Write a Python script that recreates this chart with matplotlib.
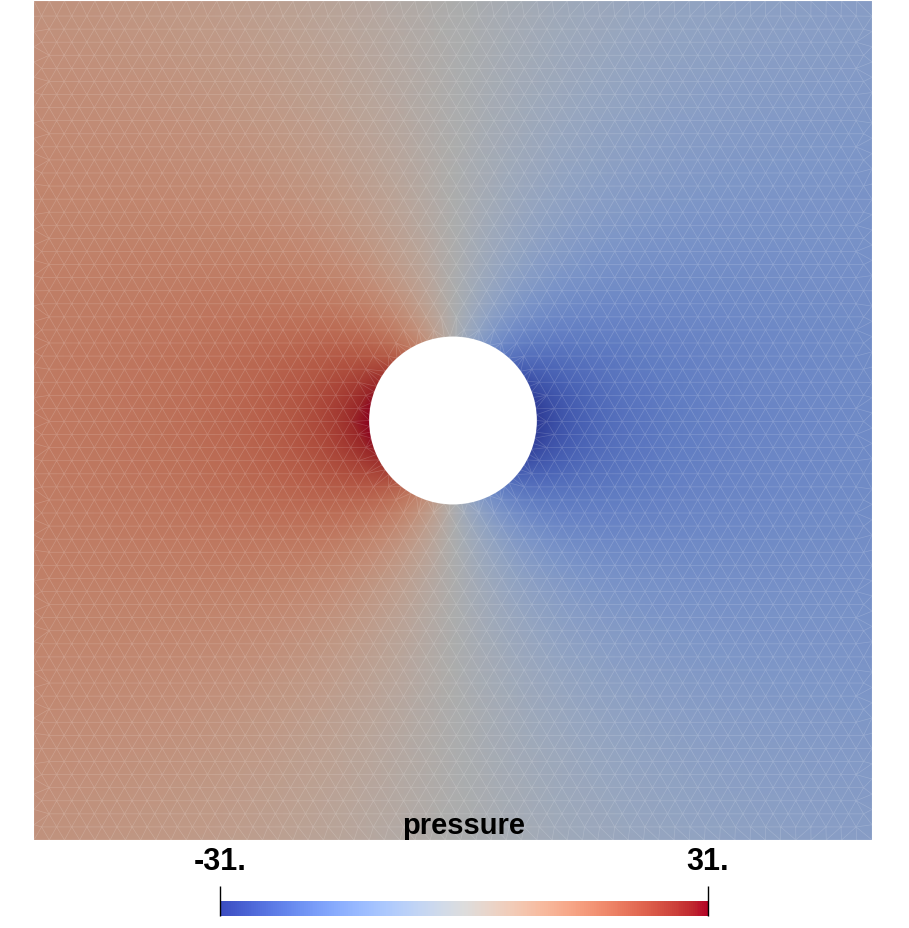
import numpy as np
import matplotlib
matplotlib.use("Agg")
import matplotlib.pyplot as plt
import matplotlib.tri as mtri
from matplotlib.colors import ListedColormap, Normalize
from matplotlib.cm import ScalarMappable
from matplotlib.patches import Circle

# field description
p_range = [-31.0, 31.0]          # colour bar limits
tick_values = [-31.0, 31.0]
tick_labels = ["-31.", "31."]
field_title = "pressure"
hole_radius = 0.2                # domain is [-1, 1] x [-1, 1]
p_hole = 31.0                    # pressure on the hole at left / right
p_side = 15.0                    # pressure at middle of left / right wall

# p = alpha * cos(theta) + beta * x / r^2, fitted to p_hole and p_side
a = hole_radius
beta = (p_hole - p_side) / (1.0 - 1.0 / a)
alpha = -p_side - beta

# mesh: triangular lattice with the hole cut out
h = 0.036
rows = np.arange(-1.0, 1.0 + 1e-9, h * np.sqrt(3) / 2)
pts = []
for k, yv in enumerate(rows):
    xs = np.arange(-1.0 + (h / 2 if k % 2 else 0.0), 1.0 + 1e-9, h)
    for xv in xs:
        pts.append((xv, yv))
pts = np.array(pts)
edge = np.linspace(-1.0, 1.0, int(2.0 / h) + 1)
ones = np.ones_like(edge)
border = np.vstack([
    np.column_stack([edge, -ones]), np.column_stack([edge, ones]),
    np.column_stack([-ones, edge]), np.column_stack([ones, edge]),
])
pts = pts[(np.abs(pts[:, 0]) < 1 - 0.3 * h) & (np.abs(pts[:, 1]) < 1 - 0.3 * h)]
pts = pts[np.hypot(pts[:, 0], pts[:, 1]) > a + 0.45 * h]
ang = np.linspace(0, 2 * np.pi, 90, endpoint=False)
ring = np.column_stack([a * np.cos(ang), a * np.sin(ang)])
pts = np.unique(np.round(np.vstack([pts, border, ring]), 9), axis=0)

tri = mtri.Triangulation(pts[:, 0], pts[:, 1])
cx = pts[tri.triangles, 0].mean(axis=1)
cy = pts[tri.triangles, 1].mean(axis=1)
tri.set_mask(np.hypot(cx, cy) < a)

x, y = pts[:, 0], pts[:, 1]
r = np.hypot(x, y)
pressure = alpha * x / r + beta * x / r ** 2

# surface colours look darker than the colour bar (scene lighting)
base = plt.get_cmap("coolwarm")(np.linspace(0, 1, 256))
shaded = base.copy()
shaded[:, :3] *= 0.78
field_cmap = ListedColormap(shaded)
norm = Normalize(vmin=p_range[0], vmax=p_range[1])

fig = plt.figure(figsize=(9.09, 9.29), dpi=100)
ax = fig.add_axes([34 / 909, 1 - 841 / 929, 838 / 909, 839 / 929])
ax.tripcolor(tri, pressure, cmap=field_cmap, norm=norm, shading="gouraud")
ax.triplot(tri, color="white", lw=0.5, alpha=0.18)
ax.add_patch(Circle((0, 0), a, facecolor="white", edgecolor="none", zorder=5))
ax.set_xlim(-1, 1)
ax.set_ylim(-1, 1)
ax.axis("off")

# colour bar
cax = fig.add_axes([220 / 909, 1 - 917 / 929, 488 / 909, 15 / 929])
cbar = fig.colorbar(ScalarMappable(norm=norm, cmap="coolwarm"), cax=cax,
                    orientation="horizontal")
cbar.outline.set_visible(False)
cbar.set_ticks(tick_values)
cax.minorticks_off()
cax.tick_params(axis="x", bottom=False, top=True, direction="inout",
                length=22, width=1.0, labelbottom=False, labeltop=False)

font = dict(family="Liberation Sans", weight="bold", color="black")
fig.text(464 / 909, 1 - 826 / 929, field_title, ha="center", va="center",
         fontsize=21, **font)
for val, lab in zip(tick_values, tick_labels):
    fx = (220 + (val - p_range[0]) / (p_range[1] - p_range[0]) * 488) / 909
    fig.text(fx, 1 - 862 / 929, lab, ha="center", va="center", fontsize=22, **font)

fig.savefig("out.png", dpi=100)
